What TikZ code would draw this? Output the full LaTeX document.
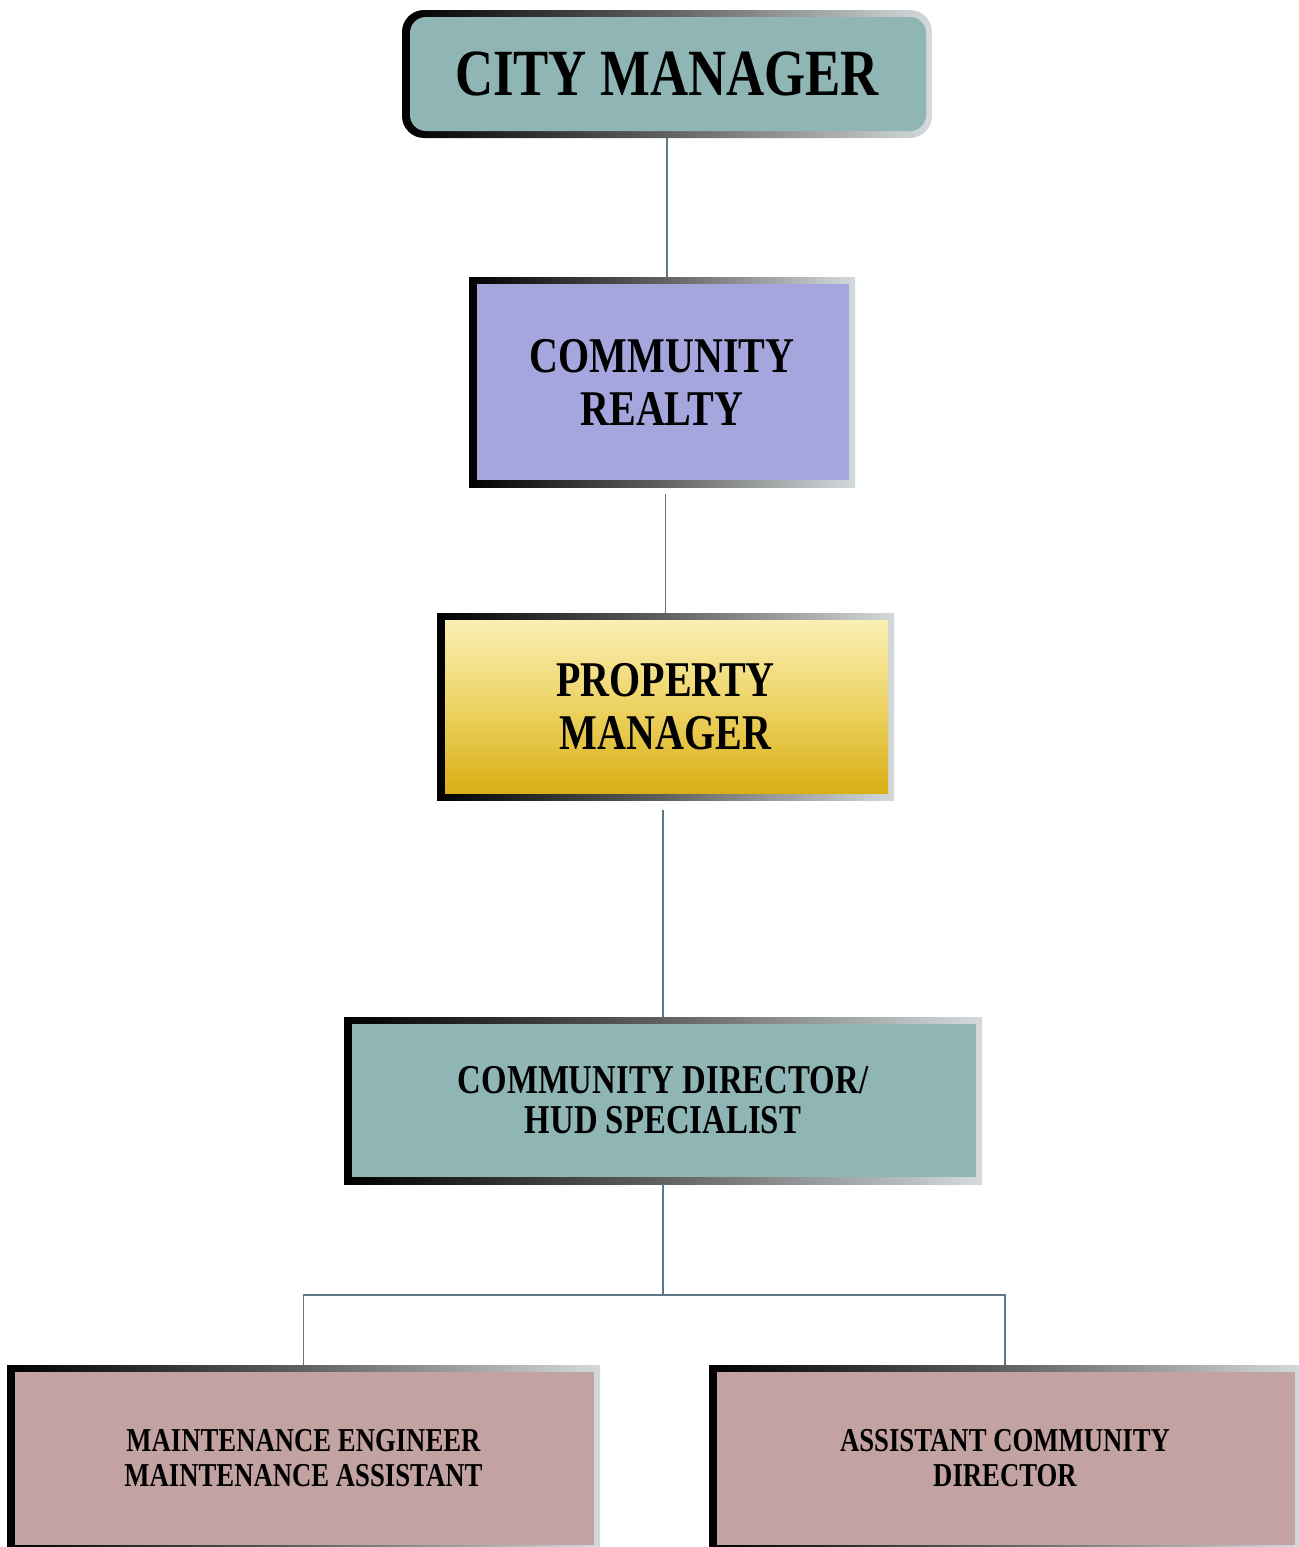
\documentclass[tikz,border=0pt]{standalone}
\usepackage{fontspec}
\setmainfont{Liberation Serif}[FakeStretch=0.8]
\definecolor{tealbox}{RGB}{143,181,180}
\definecolor{lavbox}{RGB}{166,166,222}
\definecolor{rosebox}{RGB}{195,162,162}
\definecolor{pmtop}{RGB}{251,241,186}
\definecolor{pmmid}{RGB}{237,211,100}
\definecolor{pmbot}{RGB}{215,172,14}
\definecolor{framelight}{RGB}{212,218,220}
\definecolor{linecol}{RGB}{92,120,136}
\tikzset{
  orgbox/.style 2 args={rectangle, minimum width=#1, minimum height=#2, inner sep=0pt,
    left color=black, right color=framelight, middle color=black!62, align=center},
  innerfill/.style={path picture={\fill[#1] ([xshift=4pt,yshift=-3.5pt]path picture bounding box.north west) rectangle ([xshift=-3pt,yshift=3.5pt]path picture bounding box.south east);}},
  innergold/.style={path picture={\shade[top color=pmtop, bottom color=pmbot, middle color=pmmid] ([xshift=4pt,yshift=-3.5pt]path picture bounding box.north west) rectangle ([xshift=-3pt,yshift=3.5pt]path picture bounding box.south east);}},
  innerround/.style={path picture={\fill[#1, rounded corners=8pt] ([xshift=4pt,yshift=-3.5pt]path picture bounding box.north west) rectangle ([xshift=-3pt,yshift=3.5pt]path picture bounding box.south east);}},
  conn/.style={draw=linecol, line width=0.8pt},
  bigfont/.style={font=\fontsize{33}{36}\selectfont\bfseries},
  midfont/.style={font=\fontsize{25}{26.5}\selectfont\bfseries},
  cdfont/.style={font=\fontsize{20.5}{20}\selectfont\bfseries},
  smallfont/.style={font=\fontsize{16.7}{17.5}\selectfont\bfseries}
}
\begin{document}
\begin{tikzpicture}[x=0.5pt,y=-0.5pt]
\useasboundingbox (0,0) rectangle (1299,1547);
\clip (0,0) rectangle (1299,1547);
\fill[white] (0,0) rectangle (1299,1547);

\node[orgbox={265pt}{64pt}, rounded corners=11pt, innerround=tealbox, bigfont] (city) at (667,74) {CITY MANAGER};
\node[orgbox={193pt}{105pt}, innerfill=lavbox, midfont] (realty) at (662,382) {COMMUNITY\\REALTY};
\node[orgbox={228.5pt}{93.5pt}, innergold, midfont] (pm) at (665.5,706.5) {PROPERTY\\MANAGER};
\node[orgbox={319pt}{83.5pt}, innerfill=tealbox, cdfont] (cd) at (663,1100.5) {COMMUNITY DIRECTOR/\\HUD SPECIALIST};
\node[orgbox={296.5pt}{93.5pt}, innerfill=rosebox, smallfont] (maint) at (303.5,1458.5) {MAINTENANCE ENGINEER\\MAINTENANCE ASSISTANT};
\node[orgbox={296pt}{93.5pt}, innerfill=rosebox, smallfont] (asst) at (1005,1458.5) {ASSISTANT COMMUNITY\\DIRECTOR};

\coordinate (bus) at (663,1295);
\draw[conn] (city.south) -- (city.south |- realty.north);
\draw[conn] ([yshift=-3.5pt]realty.south -| pm.north) -- (pm.north);
\draw[conn] ([yshift=-5pt]pm.south -| cd.north) -- (cd.north);
\draw[conn] (cd.south) -- (bus);
\draw[conn] (maint.north) -- (maint.north |- bus) -- (asst.north |- bus) -- (asst.north);
\end{tikzpicture}
\end{document}
